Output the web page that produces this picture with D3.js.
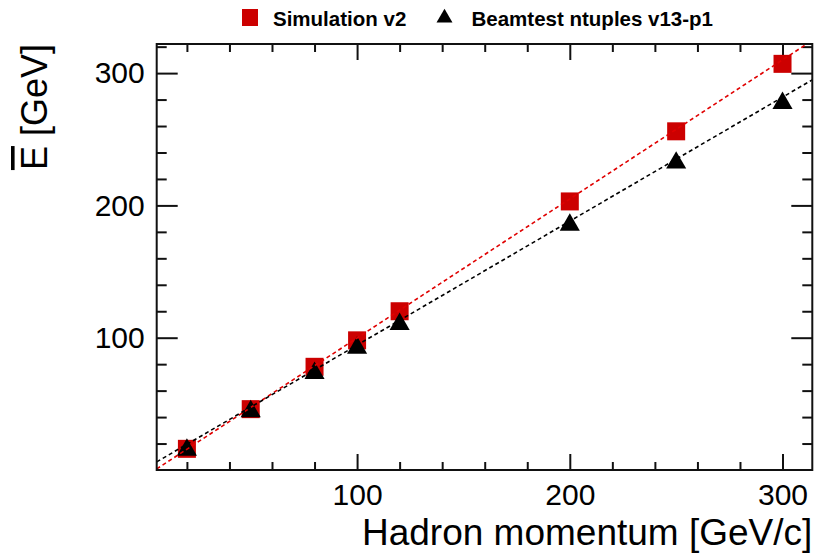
<!DOCTYPE html>
<html>
<head>
<meta charset="utf-8">
<script src="https://cdn.jsdelivr.net/npm/d3@7"></script>
<style>
  body { margin:0; background:#fff; }
  svg text { font-family: "Liberation Sans", Arial, Helvetica, sans-serif; }
</style>
</head>
<body>
<svg id="chart" width="827" height="556"></svg>
<script>
// data
var momenta = [20, 50, 80, 100, 120, 200, 250, 300]
var simE = [16, 46, 78, 98, 120, 203, 256, 307]
var beamE = [16, 45, 74, 93, 111, 186, 233, 278]
// fitted lines [slope, intercept]
var simFit = [1.051, -5.3]
var beamFit = [0.937, 0.7]
var xMajor = [100, 200, 300]
var xMinor = [20, 40, 60, 80, 120, 140, 160, 180, 220, 240, 260, 280]
var yMajor = [100, 200, 300]
var yMinor = [20, 40, 60, 80, 120, 140, 160, 180, 220, 240, 260, 280, 320]

function draw() {
  var svg = d3.select("#chart")
  var fLeft = 156.7, fRight = 812.3, fTop = 44, fBottom = 470
  var red = "#cc0000"

  var x = d3.scaleLinear().domain([5.8, 314]).range([fLeft, fRight])
  var y = d3.scaleLinear().domain([0, 322]).range([fBottom, fTop])

  svg.append("defs").append("clipPath").attr("id", "frameclip")
    .append("rect").attr("x", fLeft).attr("y", fTop)
    .attr("width", fRight - fLeft).attr("height", fBottom - fTop)

  // axes: ticks point inside the frame
  function styleAxis(g) {
    g.select(".domain").remove()
    g.selectAll("line").attr("stroke", "#111").attr("stroke-width", 2)
    g.selectAll("text").attr("font-size", 30).attr("fill", "#000")
  }
  svg.append("g").attr("transform", "translate(0," + fBottom + ")")
    .call(d3.axisBottom(x).tickValues(xMajor).tickSize(-16).tickPadding(14).tickFormat(d3.format("d")))
    .call(styleAxis)
  svg.append("g").attr("transform", "translate(0," + fBottom + ")")
    .call(d3.axisBottom(x).tickValues(xMinor).tickSize(-8).tickFormat(""))
    .call(styleAxis)
  svg.append("g").attr("transform", "translate(0," + fTop + ")")
    .call(d3.axisTop(x).tickValues(xMajor).tickSize(-16).tickFormat(""))
    .call(styleAxis)
  svg.append("g").attr("transform", "translate(0," + fTop + ")")
    .call(d3.axisTop(x).tickValues(xMinor).tickSize(-8).tickFormat(""))
    .call(styleAxis)

  svg.append("g").attr("transform", "translate(" + fLeft + ",0)")
    .call(d3.axisLeft(y).tickValues(yMajor).tickSize(-21).tickPadding(12).tickFormat(d3.format("d")))
    .call(styleAxis)
  svg.append("g").attr("transform", "translate(" + fLeft + ",0)")
    .call(d3.axisLeft(y).tickValues(yMinor).tickSize(-10).tickFormat(""))
    .call(styleAxis)
  svg.append("g").attr("transform", "translate(" + fRight + ",0)")
    .call(d3.axisRight(y).tickValues(yMajor).tickSize(-21).tickFormat(""))
    .call(styleAxis)
  svg.append("g").attr("transform", "translate(" + fRight + ",0)")
    .call(d3.axisRight(y).tickValues(yMinor).tickSize(-10).tickFormat(""))
    .call(styleAxis)

  // markers
  svg.append("g").selectAll("rect").data(momenta).enter().append("rect")
    .attr("x", function(d){ return x(d) - 9 })
    .attr("y", function(d, i){ return y(simE[i]) - 9 })
    .attr("width", 18).attr("height", 18)
    .attr("fill", red)

  var tri = d3.symbol().type(d3.symbolTriangle).size(175)
  svg.append("g").selectAll("path").data(momenta).enter().append("path")
    .attr("d", tri)
    .attr("transform", function(d, i){ return "translate(" + x(d) + "," + (y(beamE[i]) + 1) + ")" })
    .attr("fill", "#000")

  // dashed fit lines
  var fits = [[simFit, "#e00000"], [beamFit, "#000"]]
  var line = d3.line().x(function(d){ return x(d[0]) }).y(function(d){ return y(d[1]) })
  fits.forEach(function(f){
    var xs = x.domain()
    svg.append("path")
      .attr("clip-path", "url(#frameclip)")
      .attr("d", line(xs.map(function(v){ return [v, f[0][0] * v + f[0][1]] })))
      .attr("fill", "none").attr("stroke", f[1])
      .attr("stroke-width", 1.6).attr("stroke-dasharray", "4,3")
  })

  // frame
  svg.append("rect").attr("x", fLeft).attr("y", fTop)
    .attr("width", fRight - fLeft).attr("height", fBottom - fTop)
    .attr("fill", "none").attr("stroke", "#111").attr("stroke-width", 2)

  // axis titles
  svg.append("text").attr("x", fRight).attr("y", 545)
    .attr("text-anchor", "end").attr("font-size", 37)
    .text("Hadron momentum [GeV/c]")

  var yt = svg.append("text").attr("transform", "translate(47," + fTop + ") rotate(-90)")
    .attr("text-anchor", "end").attr("font-size", 36)
  yt.append("tspan").attr("text-decoration", "overline").text("E")
  yt.append("tspan").text(" [GeV]")

  // legend
  var lg = svg.append("g")
  lg.append("rect").attr("x", 242).attr("y", 9).attr("width", 16).attr("height", 17).attr("fill", red)
  lg.append("text").attr("x", 273).attr("y", 26).attr("font-size", 20.5).attr("font-weight", "bold")
    .text("Simulation v2")
  lg.append("path").attr("d", d3.symbol().type(d3.symbolTriangle).size(110))
    .attr("transform", "translate(444.5,18)")
  lg.append("text").attr("x", 471.5).attr("y", 26).attr("font-size", 20.5).attr("font-weight", "bold")
    .text("Beamtest ntuples v13-p1")
}
draw()
</script>
</body>
</html>
